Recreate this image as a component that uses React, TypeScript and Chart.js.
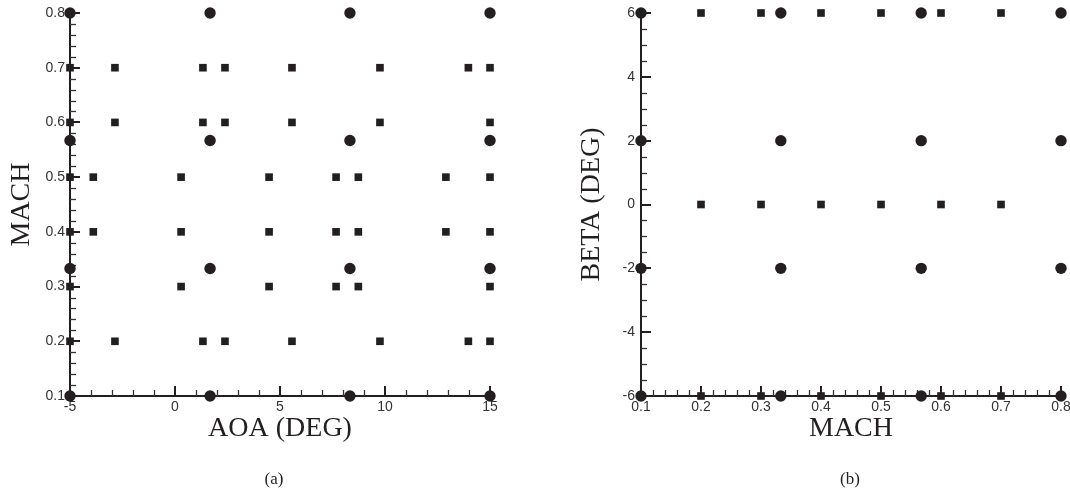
import React, { useEffect, useRef } from 'react';
import { Chart, registerables } from 'chart.js';

Chart.register(...registerables);

// ---------- data ----------
// (a) AOA vs MACH
const A_CIRCLE_AOA = [-5, 1.67, 8.33, 15];
const A_CIRCLE_MACH = [0.1, 0.333, 0.567, 0.8];
const A_SQUARE_MACH = [0.2, 0.3, 0.4, 0.5, 0.6, 0.7];
const A_AOA_M02 = [-5, -2.86, 1.33, 2.38, 5.57, 9.76, 13.97, 15];
const A_AOA_M03 = [-5, 0.29, 4.48, 7.67, 8.73, 15];
const A_AOA_M04 = [-5, -3.89, 0.29, 4.48, 7.67, 8.73, 12.9, 15];
const A_AOA_M05 = [-5, -3.89, 0.29, 4.48, 7.67, 8.73, 12.9, 15];
const A_AOA_M06 = [-5, -2.86, 1.33, 2.38, 5.57, 9.76, 15];
const A_AOA_M07 = [-5, -2.86, 1.33, 2.38, 5.57, 9.76, 13.97, 15];
const A_SQUARE_ROWS = [A_AOA_M02, A_AOA_M03, A_AOA_M04, A_AOA_M05, A_AOA_M06, A_AOA_M07];

// (b) MACH vs BETA
const B_CIRCLE_MACH = [0.1, 0.333, 0.567, 0.8];
const B_CIRCLE_BETA = [-6, -2, 2, 6];
const B_SQUARE_MACH = [0.2, 0.3, 0.4, 0.5, 0.6, 0.7];
const B_SQUARE_BETA = [-6, 0, 6];

// axis ranges / ticks
const A_X_RANGE = [-5, 15];
const A_Y_RANGE = [0.1, 0.8];
const B_X_RANGE = [0.1, 0.8];
const B_Y_RANGE = [-6, 6];

const INK = '#231f20';
const TICK_COLOR = '#333333';

type Pt = { x: number; y: number };

function grid(xs: number[], ys: number[]): Pt[] {
  const out: Pt[] = [];
  ys.forEach((y) => xs.forEach((x) => out.push({ x, y })));
  return out;
}

const aSquares: Pt[] = [];
A_SQUARE_MACH.forEach((m, i) => A_SQUARE_ROWS[i].forEach((a) => aSquares.push({ x: a, y: m })));
const aCircles = grid(A_CIRCLE_AOA, A_CIRCLE_MACH);
const bSquares = grid(B_SQUARE_MACH, B_SQUARE_BETA);
const bCircles = grid(B_CIRCLE_MACH, B_CIRCLE_BETA);

const insideTicks = {
  id: 'insideTicks',
  beforeDatasetsDraw(chart: any, _args: any, opts: any) {
    const { ctx, chartArea: area } = chart;
    const xs = chart.scales.x;
    const ys = chart.scales.y;
    ctx.save();
    const drawAxis = (sc: any, minor: number, every: number, horizontal: boolean) => {
      const n = Math.round((sc.max - sc.min) / minor);
      for (let i = 0; i <= n; i++) {
        const v = sc.min + i * minor;
        const major = i % every === 0;
        const len = major ? 10 : 6;
        ctx.lineWidth = major ? 2 : 1.3;
        ctx.strokeStyle = major ? INK : TICK_COLOR;
        const p = Math.round(sc.getPixelForValue(v)) + (major ? 0 : 0.5);
        ctx.beginPath();
        if (horizontal) {
          ctx.moveTo(p, area.bottom);
          ctx.lineTo(p, area.bottom - len);
        } else {
          ctx.moveTo(area.left, p);
          ctx.lineTo(area.left + len, p);
        }
        ctx.stroke();
      }
    };
    drawAxis(xs, opts.xMinor, opts.xEvery, true);
    drawAxis(ys, opts.yMinor, opts.yEvery, false);
    ctx.restore();
  },
};

type Spec = {
  squares: Pt[];
  circles: Pt[];
  xRange: number[];
  yRange: number[];
  xStep: number;
  yStep: number;
  xMinor: number;
  xEvery: number;
  yMinor: number;
  yEvery: number;
  xTitle: string;
  yTitle: string;
  yAxisWidth: number;
  padRight: number;
  yTitlePad: number;
  yTickPad: number;
};

function makeConfig(s: Spec): any {
  const tickFont = { family: 'Liberation Sans', size: 14 };
  const titleFont = { family: 'Liberation Serif', size: 28 };
  return {
    type: 'scatter',
    data: {
      datasets: [
        {
          data: s.squares,
          pointStyle: 'rect',
          pointRadius: 5.4,
          backgroundColor: INK,
          borderWidth: 0,
          clip: false,
        },
        {
          data: s.circles,
          pointStyle: 'circle',
          pointRadius: 5.7,
          backgroundColor: INK,
          borderWidth: 0,
          clip: false,
        },
      ],
    },
    options: {
      animation: false,
      responsive: false,
      events: [],
      layout: { padding: { left: 0, right: s.padRight, top: 13, bottom: 48 } },
      plugins: {
        legend: { display: false },
        tooltip: { enabled: false },
        insideTicks: { xMinor: s.xMinor, xEvery: s.xEvery, yMinor: s.yMinor, yEvery: s.yEvery },
      },
      scales: {
        x: {
          type: 'linear',
          min: s.xRange[0],
          max: s.xRange[1],
          ticks: { stepSize: s.xStep, font: tickFont, color: TICK_COLOR, padding: 3, maxRotation: 0, autoSkip: false },
          grid: { display: false, drawTicks: false, tickLength: 0 },
          border: { display: true, color: INK, width: 2 },
          title: { display: true, text: s.xTitle, font: titleFont, color: INK, padding: { top: 0, bottom: 1 } },
          afterFit: (sc: any) => {
            sc.height = 50;
            sc.paddingLeft = 0;
            sc.paddingRight = 0;
          },
        },
        y: {
          type: 'linear',
          min: s.yRange[0],
          max: s.yRange[1],
          ticks: { stepSize: s.yStep, font: tickFont, color: TICK_COLOR, padding: s.yTickPad, autoSkip: false },
          grid: { display: false, drawTicks: false, tickLength: 0 },
          border: { display: true, color: INK, width: 2 },
          title: { display: true, text: s.yTitle, font: titleFont, color: INK, padding: { top: s.yTitlePad, bottom: 0 } },
          afterFit: (sc: any) => {
            sc.width = s.yAxisWidth;
            sc.paddingTop = 0;
            sc.paddingBottom = 0;
          },
        },
      },
    },
    plugins: [insideTicks],
  };
}

function Panel({ spec, left }: { spec: Spec; left: number }) {
  const ref = useRef<HTMLCanvasElement | null>(null);
  useEffect(() => {
    if (!ref.current) return;
    const chart = new Chart(ref.current, makeConfig(spec));
    return () => chart.destroy();
  }, []);
  return (
    <canvas
      ref={ref}
      width={535}
      height={494}
      style={{ position: 'absolute', left, top: 0, width: 535, height: 494, display: 'block' }}
    />
  );
}

const specA: Spec = {
  squares: aSquares,
  circles: aCircles,
  xRange: A_X_RANGE,
  yRange: A_Y_RANGE,
  xStep: 5,
  yStep: 0.1,
  xMinor: 1,
  xEvery: 5,
  yMinor: 0.02,
  yEvery: 5,
  xTitle: 'AOA (DEG)',
  yTitle: 'MACH',
  yAxisWidth: 70,
  padRight: 45,
  yTitlePad: 5,
  yTickPad: 5,
};

const specB: Spec = {
  squares: bSquares,
  circles: bCircles,
  xRange: B_X_RANGE,
  yRange: B_Y_RANGE,
  xStep: 0.1,
  yStep: 2,
  xMinor: 0.02,
  xEvery: 5,
  yMinor: 0.5,
  yEvery: 4,
  xTitle: 'MACH',
  yTitle: 'BETA (DEG)',
  yAxisWidth: 106,
  padRight: 9,
  yTitlePad: 40,
  yTickPad: 6,
};

const capStyle = (center: number): React.CSSProperties => ({
  position: 'absolute',
  left: center - 50,
  width: 100,
  top: 469,
  lineHeight: '20px',
  textAlign: 'center',
  fontFamily: 'Liberation Serif',
  fontSize: 17,
  color: INK,
});

export default function App() {
  return (
    <div style={{ position: 'absolute', left: 0, top: 0, width: 1070, height: 494, background: '#fff', overflow: 'hidden' }}>
      <Panel spec={specA} left={0} />
      <Panel spec={specB} left={535} />
      <div style={capStyle(274)}>(a)</div>
      <div style={capStyle(850)}>(b)</div>
    </div>
  );
}
